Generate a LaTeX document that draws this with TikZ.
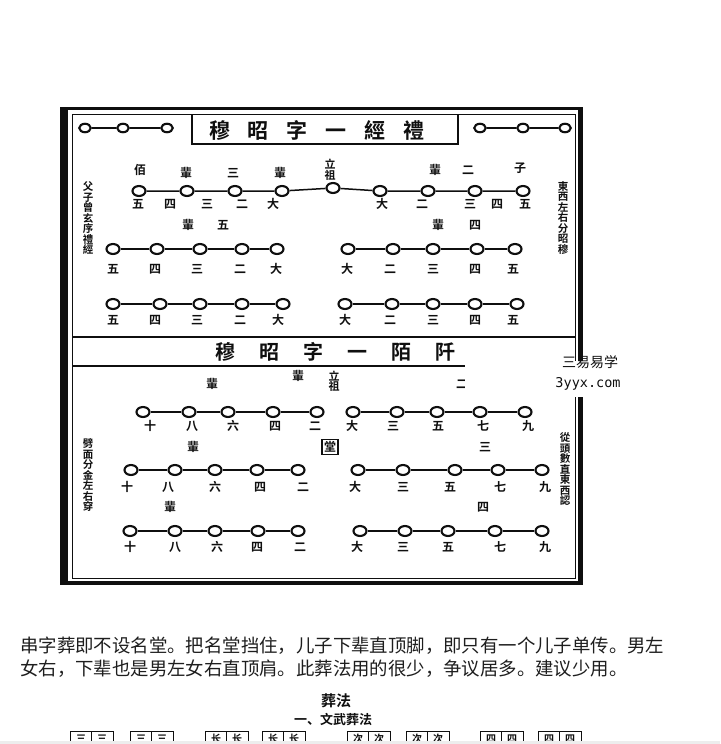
\documentclass[tikz,border=0pt]{standalone}
\usepackage{fontspec}
\setmainfont{Noto Sans CJK SC}[BoldFont={Noto Sans CJK SC Bold}]
\newfontfamily\wmfont{DejaVu Sans Mono}
\usepackage{tikz}
\usetikzlibrary{shapes.geometric}

\begin{document}
\begin{tikzpicture}[x=1pt, y=-1pt,
  ring/.style={
    draw=ink,
    ellipse,
    line width=2.1pt,
    minimum width=13pt,
    minimum height=10pt,
    inner sep=0pt
  },
  smallring/.style={
    ring,
    minimum width=11.5pt,
    minimum height=8.5pt
  },
  link/.style={
    draw=ink,
    line width=1.5pt
  },
  gen/.style={
    text=ink,
    font=\bfseries\fontsize{12}{12}\selectfont,
    inner sep=0pt
  },
  founder/.style={
    text=ink,
    font=\bfseries\fontsize{11}{10.5}\selectfont,
    align=center,
    inner sep=0pt
  },
  side/.style={
    text=ink,
    font=\bfseries\fontsize{10.5}{10.5}\selectfont,
    align=center,
    inner sep=0pt
  },
  headline/.style={
    text=ink,
    font=\bfseries\fontsize{21}{21}\selectfont,
    inner sep=0pt
  },
  para/.style={
    text=prose,
    font=\fontsize{18.4}{18.4}\selectfont,
    anchor=west,
    inner sep=0pt
  }
]

\definecolor{ink}{RGB}{15,15,15}
\definecolor{prose}{RGB}{30,30,30}

\useasboundingbox (0,0) rectangle (720,744);
\fill[white] (0,0) rectangle (720,744);
\begin{scope}
\clip (0,0) rectangle (720,744);

% frame of the scanned chart
\fill[ink] (60,107) rectangle (68,585);
\fill[ink] (60,107) rectangle (583,110);
\fill[ink] (578,107) rectangle (583,585);
\fill[ink] (60,581) rectangle (583,585);
\draw[ink, line width=1pt] (72,114) rectangle (575,578);

% upper panel title
\draw[ink, line width=1.8pt] (192,114) -- (192,144) -- (458,144) -- (458,114);
\node[headline] (titleA) at (317,130)
  {穆\hspace{18pt}昭\hspace{18pt}字\hspace{18pt}一\hspace{18pt}經\hspace{18pt}禮};

\node[smallring] (dl1) at (85,128) {};
\node[smallring] (dl2) at (123,128) {};
\node[smallring] (dl3) at (167,128) {};
\draw[link] (dl1) -- (dl2) -- (dl3);
\node[smallring] (dr1) at (480,128) {};
\node[smallring] (dr2) at (523,128) {};
\node[smallring] (dr3) at (565,128) {};
\draw[link] (dr1) -- (dr2) -- (dr3);

\node[side] (sideA) at (88,218) {父\\子\\曾\\玄\\序\\禮\\經};
\node[side] (sideB) at (563,218) {東\\西\\左\\右\\分\\昭\\穆};

% first line with the founder
\foreach \x [count=\i] in {139,187,235,282}
  \node[ring] (ta\i) at (\x,191) {};
\node[ring] (tz) at (333,188) {};
\foreach \x [count=\i] in {380,428,475,523}
  \node[ring] (tb\i) at (\x,191) {};
\draw[link] (ta1) -- (ta2) -- (ta3) -- (ta4) -- (tz)
  -- (tb1) -- (tb2) -- (tb3) -- (tb4);

\node[gen] (tu1) at (140,170) {佰};
\node[gen] (tu2) at (186,173) {輩};
\node[gen] (tu3) at (233,173) {三};
\node[gen] (tu4) at (280,173) {輩};
\node[founder] (tu5) at (330,170) {立\\祖};
\node[gen] (tu6) at (435,170) {輩};
\node[gen] (tu7) at (468,170) {二};
\node[gen] (tu8) at (520,168) {子};

\foreach \x/\t [count=\i] in {138/五,170/四,207/三,242/二,273/大,
    382/大,422/二,470/三,497/四,525/五}
  \node[gen] (tn\i) at (\x,204) {\t};

% second line
\node[gen] (su1) at (188,225) {輩};
\node[gen] (su2) at (223,225) {五};
\node[gen] (su3) at (438,225) {輩};
\node[gen] (su4) at (475,225) {四};
\foreach \x [count=\i] in {113,157,200,242,277}
  \node[ring] (sa\i) at (\x,249) {};
\foreach \x [count=\i] in {348,393,433,477,515}
  \node[ring] (sb\i) at (\x,249) {};
\draw[link] (sa1) -- (sa2) -- (sa3) -- (sa4) -- (sa5);
\draw[link] (sb1) -- (sb2) -- (sb3) -- (sb4) -- (sb5);
\foreach \x/\t [count=\i] in {113/五,155/四,197/三,240/二,276/大,
    347/大,390/二,433/三,475/四,513/五}
  \node[gen] (sn\i) at (\x,269) {\t};

% third line
\foreach \x [count=\i] in {113,160,200,242,283}
  \node[ring] (ra\i) at (\x,304) {};
\foreach \x [count=\i] in {345,392,433,475,517}
  \node[ring] (rb\i) at (\x,304) {};
\draw[link] (ra1) -- (ra2) -- (ra3) -- (ra4) -- (ra5);
\draw[link] (rb1) -- (rb2) -- (rb3) -- (rb4) -- (rb5);
\foreach \x/\t [count=\i] in {113/五,155/四,197/三,240/二,278/大,
    345/大,390/二,433/三,475/四,513/五}
  \node[gen] (rn\i) at (\x,320) {\t};

% lower panel
\draw[ink, line width=2pt] (72,337) -- (575,337);
\node[headline, font=\bfseries\fontsize{20}{20}\selectfont] (titleB) at (335,352)
  {穆\hspace{24pt}昭\hspace{24pt}字\hspace{24pt}一\hspace{24pt}陌\hspace{24pt}阡};
\draw[ink, line width=1.3pt] (72,366) -- (575,366);

\node[side] (sideC) at (88,475) {劈\\面\\分\\金\\左\\右\\穿};
\node[side] (sideD) at (565,469) {從\\頭\\數\\直\\東\\西\\認};

\node[gen] (pu1) at (212,384) {輩};
\node[gen] (pu2) at (298,376) {輩};
\node[founder] (pu3) at (334,381) {立\\祖};
\node[gen] (pu4) at (462,384) {二};

\foreach \x [count=\i] in {143,189,228,273,317}
  \node[ring] (pa\i) at (\x,412) {};
\foreach \x [count=\i] in {353,397,437,480,525}
  \node[ring] (pb\i) at (\x,412) {};
\draw[link] (pa1) -- (pa2) -- (pa3) -- (pa4) -- (pa5);
\draw[link] (pb1) -- (pb2) -- (pb3) -- (pb4) -- (pb5);
\foreach \x/\t [count=\i] in {150/十,192/八,233/六,275/四,315/二,
    352/大,393/三,438/五,483/七,528/九}
  \node[gen] (pn\i) at (\x,426) {\t};

\node[gen] (qu1) at (193,447) {輩};
\node[gen, draw=ink, line width=1.2pt, inner sep=2pt] (hall) at (330,447) {堂};
\node[gen] (qu2) at (485,447) {三};

\foreach \x [count=\i] in {131,175,215,257,298}
  \node[ring] (qa\i) at (\x,470) {};
\foreach \x [count=\i] in {358,403,455,498,542}
  \node[ring] (qb\i) at (\x,470) {};
\draw[link] (qa1) -- (qa2) -- (qa3) -- (qa4) -- (qa5);
\draw[link] (qb1) -- (qb2) -- (qb3) -- (qb4) -- (qb5);
\foreach \x/\t [count=\i] in {127/十,168/八,215/六,260/四,303/二,
    355/大,403/三,450/五,500/七,545/九}
  \node[gen] (qn\i) at (\x,487) {\t};

\node[gen] (wu1) at (170,507) {輩};
\node[gen] (wu2) at (483,507) {四};
\foreach \x [count=\i] in {130,175,215,258,298}
  \node[ring] (wa\i) at (\x,531) {};
\foreach \x [count=\i] in {360,405,448,495,542}
  \node[ring] (wb\i) at (\x,531) {};
\draw[link] (wa1) -- (wa2) -- (wa3) -- (wa4) -- (wa5);
\draw[link] (wb1) -- (wb2) -- (wb3) -- (wb4) -- (wb5);
\foreach \x/\t [count=\i] in {130/十,175/八,217/六,257/四,300/二,
    357/大,403/三,448/五,500/七,545/九}
  \node[gen] (wn\i) at (\x,547) {\t};

% watermark patch
\fill[white] (465,361) rectangle (642,397);
\node[font=\fontsize{14}{14}\selectfont, text=ink, inner sep=0pt] (wmA) at (590,362) {三易易学};
\node[font=\wmfont\fontsize{13.5}{13.5}\selectfont, text=ink, inner sep=0pt] (wmB) at (588,384) {3yyx.com};

% text below the chart
\node[para] (lineA) at (20,646)
  {串字葬即不设名堂。把名堂挡住，儿子下辈直顶脚，即只有一个儿子单传。男左};
\node[para] (lineB) at (20,669)
  {女右，下辈也是男左女右直顶肩。此葬法用的很少，争议居多。建议少用。};
\node[text=ink, font=\bfseries\fontsize{15}{15}\selectfont, inner sep=0pt] (headA) at (336,701) {葬法};
\node[text=ink, font=\bfseries\fontsize{13}{13}\selectfont, inner sep=0pt] (headB) at (333,719) {一、文武葬法};

\foreach \x/\t [count=\i] in {70/三,130/三,205/长,262/长,347/次,406/次,480/四,538/四} {
  \draw[ink, line width=0.9pt] (\x,731) rectangle ++(43,20);
  \draw[ink, line width=0.9pt] (\x+21.5,731) -- ++(0,20);
  \node[gen, font=\bfseries\fontsize{10}{10}\selectfont] (bl\i) at (\x+11,739) {\t};
  \node[gen, font=\bfseries\fontsize{10}{10}\selectfont] (br\i) at (\x+32,739) {\t};
}
\fill[black!7] (0,741) rectangle (720,744);
\end{scope}

\end{tikzpicture}
\end{document}
